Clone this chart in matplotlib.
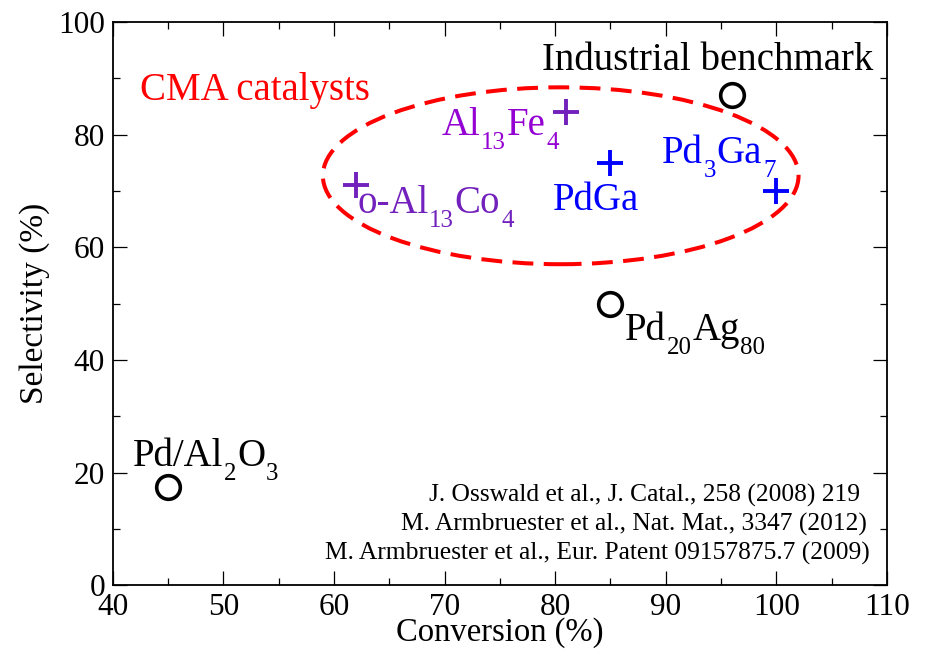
import re
import matplotlib
matplotlib.use("Agg")
import matplotlib.pyplot as plt
import matplotlib.transforms as mtransforms
from matplotlib.patches import Ellipse
from matplotlib.ticker import MultipleLocator

# ---------------- data ----------------
ref_conv = [45, 85, 96]
ref_sel = [17.5, 50, 87]
violet_conv = [62, 81]
violet_sel = [71, 84]
blue_conv = [85, 100]
blue_sel = [75, 70]

ellipse_center = (80.5, 72.7)
ellipse_size = (43.0, 31.4)

labels = ["Pd/Al_{2}O_{3}", "Pd_{20}Ag_{80}", "Industrial benchmark",
          "o-Al_{13}Co_{4}", "Al_{13}Fe_{4}", "PdGa", "Pd_{3}Ga_{7}", "CMA catalysts"]
label_x = [41.8, 86.3, 78.8, 62.1, 69.75, 79.8, 89.65, 42.45]
label_y = [21.2, 43.6, 91.5, 66.1, 80.0, 66.6, 75.05, 86.2]

references = ["J. Osswald et al., J. Catal., 258 (2008) 219",
              "M. Armbruester et al., Nat. Mat., 3347 (2012)",
              "M. Armbruester et al., Eur. Patent 09157875.7 (2009)"]
ref_x = [107.55, 108.15, 108.45]
ref_y = [14.8, 9.8, 4.65]

xticks = [40, 50, 60, 70, 80, 90, 100, 110]
yticks = [0, 20, 40, 60, 80, 100]

# ---------------- style ----------------
plt.rcParams['font.family'] = ['Liberation Serif', 'DejaVu Serif']
plt.rcParams['lines.scale_dashes'] = False

INDIGO = '#7221bc'
VIOLET = '#9400d3'
BLUE = '#0000ff'
RED = '#ff0000'
label_colors = ['black', 'black', 'black', INDIGO, VIOLET, BLUE, BLUE, RED]

fig = plt.figure(figsize=(9.3, 6.5), dpi=100)
ax = fig.add_axes([0.1212, 0.0995, 0.8326, 0.8667])

ax.set_xlim(40, 110)
ax.set_ylim(0, 100)
ax.set_xticks(xticks)
ax.set_yticks(yticks)
ax.xaxis.set_minor_locator(MultipleLocator(5))
ax.yaxis.set_minor_locator(MultipleLocator(10))
ax.tick_params(which='both', direction='in', top=True, right=True, width=0.9)
ax.tick_params(which='major', length=10, labelsize=22.5)
ax.tick_params(axis='y', which='major', pad=5.5)
ax.tick_params(axis='x', which='major', pad=5.5)
ax.tick_params(which='minor', length=5)
for sp in ax.spines.values():
    sp.set_linewidth(1.3)

ax.set_xlabel("Conversion (%)", fontsize=23.5, labelpad=-3.5)
ax.set_ylabel("Selectivity (%)", fontsize=24, labelpad=6)

# ellipse
ell = Ellipse(ellipse_center, ellipse_size[0], ellipse_size[1], fill=False,
              edgecolor=RED, linewidth=2.9, linestyle=(0, (15, 7.5)), zorder=2)
ax.add_patch(ell)

# markers
ax.plot(ref_conv, ref_sel, linestyle='none', marker='o', markersize=17,
        markerfacecolor='none', markeredgecolor='black', markeredgewidth=2.6, zorder=3)
ax.plot(violet_conv, violet_sel, linestyle='none', marker='+', markersize=18.5,
        markeredgecolor=INDIGO, markeredgewidth=2.8, zorder=3)
ax.plot(blue_conv, blue_sel, linestyle='none', marker='+', markersize=18.5,
        markeredgecolor=BLUE, markeredgewidth=2.8, zorder=3)

renderer = fig.canvas.get_renderer()


def rich(x, y, s, color, size, sub_scale=0.64, drop=0.36):
    pieces = re.split(r'_\{([^}]*)\}', s)
    dx = 0.0
    for i, p in enumerate(pieces):
        if not p:
            continue
        sub = (i % 2 == 1)
        fs = size * sub_scale if sub else size
        dy = -drop * size if sub else 0.0
        tr = ax.transData + mtransforms.ScaledTranslation(dx / 72.0, dy / 72.0,
                                                          fig.dpi_scale_trans)
        t = ax.text(x, y, p, transform=tr, fontsize=fs, color=color,
                    ha='left', va='baseline', zorder=4)
        w = t.get_window_extent(renderer).width
        dx += w * 72.0 / fig.dpi + size * 0.02


for s, x, y, c in zip(labels, label_x, label_y, label_colors):
    rich(x, y, s, c, 28)

for s, x, y in zip(references, ref_x, ref_y):
    ax.text(x, y, s, fontsize=18.4, ha='right', va='baseline', color='black')

fig.savefig("out.png", dpi=100)
